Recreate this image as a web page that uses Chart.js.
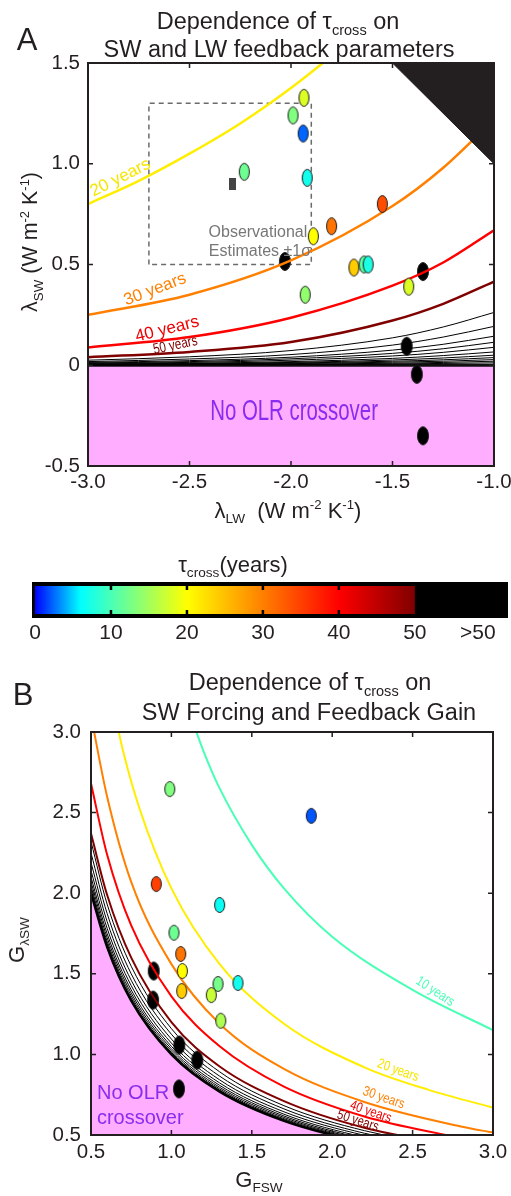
<!DOCTYPE html>
<html>
<head>
<meta charset="utf-8">
<script src="https://cdn.jsdelivr.net/npm/chart.js@4.4.1/dist/chart.umd.min.js"></script>
<style>
  html, body { margin: 0; padding: 0; background: #fff; }
  #page { position: relative; width: 511px; height: 1196px; overflow: hidden;
          font-family: 'Liberation Sans', Arial, Helvetica, sans-serif; color: #231f20; }
  canvas { position: absolute; left: 0; }
  .txt { position: absolute; white-space: nowrap; transform: translate(-50%, -50%); line-height: 1; }
  .rot { transform: translate(-50%, -50%) rotate(-90deg); }
  sub { font-size: 0.62em; vertical-align: -0.4em; line-height: 0; }
  sup { font-size: 0.6em; vertical-align: 0.65em; line-height: 0; }
</style>
</head>
<body>
<div id="page">
  <canvas id="chartA" width="511" height="530" style="top:0"></canvas>
  <canvas id="chartBar" width="511" height="100" style="top:560px"></canvas>
  <canvas id="chartB" width="511" height="516" style="top:680px"></canvas>

  <div class="txt" style="left:27px;top:39px;font-size:31px">A</div>
  <div class="txt" style="left:278px;top:22px;font-size:23.5px">Dependence of τ<sub>cross</sub> on</div>
  <div class="txt" style="left:279px;top:50px;font-size:23.5px">SW and LW feedback parameters</div>
  <div class="txt rot" style="left:31px;top:242px;font-size:21.5px">λ<sub>SW</sub> (W m<sup>-2</sup> K<sup>-1</sup>)</div>
  <div class="txt" style="left:288px;top:511px;font-size:22px">λ<sub>LW</sub>&nbsp; (W m<sup>-2</sup> K<sup>-1</sup>)</div>

  <div class="txt" style="left:233px;top:565px;font-size:22px">τ<sub>cross</sub>(years)</div>

  <div class="txt" style="left:23px;top:694px;font-size:31px">B</div>
  <div class="txt" style="left:310px;top:683px;font-size:23.5px">Dependence of τ<sub>cross</sub> on</div>
  <div class="txt" style="left:309px;top:713px;font-size:23.5px">SW Forcing and Feedback Gain</div>
  <div class="txt rot" style="left:17px;top:940px;font-size:22px">G<sub>λSW</sub></div>
  <div class="txt" style="left:259px;top:1180px;font-size:22px">G<sub>FSW</sub></div>
</div>

<script>
// ---------------- Panel A data ----------------
const lwTicksA = [-3.0, -2.5, -2.0, -1.5, -1.0];
const swTicksA = [-0.5, 0, 0.5, 1.0, 1.5];
const lwGridA = [-3.0, -2.5, -2.0, -1.5, -1.25, -1.0];

// tau contours (lambda_SW on lwGridA)
const yr20A = [[-3.0, 0.80], [-2.75, 0.915], [-2.5, 1.05], [-2.25, 1.20], [-2.0, 1.376], [-1.75, 1.575]];
const yr30A = [0.25, 0.35, 0.52, 0.79, 0.98, 1.22];
const yr40A = [0.088, 0.14, 0.236, 0.395, 0.51, 0.67];
const yr50A = [0.04, 0.066, 0.115, 0.222, 0.305, 0.415];
const longerA = [
  [0.025, 0.042, 0.073, 0.136, 0.19, 0.262],
  [0.018, 0.031, 0.053, 0.10, 0.14, 0.193],
  [0.014, 0.023, 0.04, 0.075, 0.104, 0.144],
  [0.011, 0.018, 0.032, 0.059, 0.082, 0.114],
  [0.009, 0.014, 0.025, 0.046, 0.064, 0.089],
  [0.006, 0.010, 0.018, 0.034, 0.048, 0.066],
  [0.005, 0.008, 0.014, 0.026, 0.036, 0.05],
  [0.004, 0.006, 0.011, 0.02, 0.027, 0.038],
  [0.003, 0.004, 0.008, 0.015, 0.02, 0.028],
  [0.002, 0.003, 0.005, 0.01, 0.014, 0.02],
  [0.001, 0.002, 0.003, 0.006, 0.009, 0.012]
];
const noCrossA = [[-3.0, 0], [-1.0, 0]];
const cornerA = [[-1.5, 1.5], [-1.0, 1.0]];

// observational estimate +-1 sigma
const obsLwA = [-2.7, -1.9];
const obsSwA = [0.5, 1.3];
const obsCenterA = [-2.29, 0.90];

// models (tau 60 = ">50")
const modelLwA = [-1.936, -1.99, -1.94, -2.23, -1.92, -1.55, -1.80, -1.89, -2.03, -1.69, -1.64, -1.62, -1.35, -1.42, -1.93, -1.43, -1.38, -1.35];
const modelSwA = [1.327, 1.24, 1.15, 0.96, 0.93, 0.80, 0.69, 0.64, 0.515, 0.485, 0.50, 0.50, 0.465, 0.39, 0.35, 0.094, -0.045, -0.35];
const modelTauA = [18, 13, 2.4, 12, 7, 34, 31, 20, 60, 24, 11, 7.5, 60, 18, 14, 60, 60, 60];

// ---------------- Colorbar ----------------
const barTicks = [0, 10, 20, 30, 40, 50, 58.3];

// ---------------- Panel B data ----------------
const gTicksB = [0.5, 1.0, 1.5, 2.0, 2.5, 3.0];
const gridB = [0.5, 0.6, 0.75, 1.0, 1.3, 1.7, 2.2, 2.8];

const yr10B = [[1.12, 3.10], [1.2, 2.88], [1.3, 2.65], [1.5, 2.30], [1.7, 2.03], [2.0, 1.73], [2.5, 1.40], [3.0, 1.15]];
const yr20B = [[0.64, 3.15], [0.7, 2.88], [0.8, 2.53], [1.0, 2.03], [1.3, 1.56], [1.7, 1.19], [2.2, 0.92], [2.6, 0.78], [3.0, 0.67]];
const yr30B = [[0.5, 3.10], [0.6, 2.60], [0.75, 2.07], [1.0, 1.56], [1.3, 1.19], [1.7, 0.91], [2.2, 0.705], [2.8, 0.553], [3.0, 0.515]];
const yr40B = [2.68, 2.24, 1.80, 1.36, 1.05, 0.80, 0.615, 0.48];
const yr50B = [2.37, 1.99, 1.60, 1.20, 0.925, 0.71, 0.545, 0.43];
const longerB = [
  [2.32, 1.933, 1.547, 1.16, 0.892, 0.682, 0.527, 0.414],
  [2.25, 1.875, 1.50, 1.125, 0.865, 0.662, 0.511, 0.402],
  [2.19, 1.825, 1.46, 1.095, 0.842, 0.644, 0.498, 0.391],
  [2.14, 1.783, 1.427, 1.07, 0.823, 0.629, 0.486, 0.382],
  [2.10, 1.75, 1.40, 1.05, 0.808, 0.618, 0.477, 0.375],
  [2.07, 1.725, 1.38, 1.035, 0.796, 0.609, 0.47, 0.37],
  [2.044, 1.703, 1.363, 1.022, 0.786, 0.601, 0.465, 0.365],
  [2.024, 1.687, 1.349, 1.012, 0.778, 0.595, 0.46, 0.361]
];
const noCrossB = [2.0, 1.667, 1.333, 1.0, 0.769, 0.588, 0.455, 0.357];

const gFswB = [0.99, 1.87, 0.906, 1.30, 1.016, 1.058, 0.89, 1.068, 1.29, 1.414, 1.064, 1.248, 0.886, 1.307, 1.049, 1.161, 1.047];
const gLamB = [2.646, 2.48, 2.057, 1.927, 1.755, 1.623, 1.517, 1.517, 1.437, 1.443, 1.393, 1.368, 1.337, 1.209, 1.058, 0.965, 0.786];
const tauB = [13, 2, 35, 6.5, 12, 31, 60, 20, 12.5, 7, 24, 17, 60, 15.5, 60, 60, 60];

// ---------------- styling helpers ----------------
const FONT = "'Liberation Sans', Arial, Helvetica, sans-serif";
const INK = '#231f20';
const PINK = '#ffadff';
Chart.defaults.font.family = FONT;
Chart.defaults.color = INK;

// colour map used by the figure (blue -> cyan -> yellow -> red -> dark red, black above 50)
const cmapStops = [[0, [0, 0, 255]], [6, [0, 255, 255]], [20, [255, 255, 0]], [40, [255, 0, 0]], [50, [128, 0, 0]]];
function tauColor(t) {
  if (t > 50) return '#000';
  for (let i = 1; i < cmapStops.length; i++) {
    const [v0, c0] = cmapStops[i - 1];
    const [v1, c1] = cmapStops[i];
    if (t <= v1) {
      const f = (t - v0) / (v1 - v0);
      const c = c0.map((c, k) => Math.round(c + (c1[k] - c) * f));
      return `rgb(${c[0]},${c[1]},${c[2]})`;
    }
  }
  return 'rgb(128,0,0)';
}

// ellipse markers drawn once into small canvases
const markCache = {};
function ellipseMark(color, rx, ry) {
  const key = color + '|' + rx + '|' + ry;
  if (markCache[key]) return markCache[key];
  const c = document.createElement('canvas');
  c.width = Math.ceil(rx * 2 + 3);
  c.height = Math.ceil(ry * 2 + 3);
  const g = c.getContext('2d');
  g.beginPath();
  g.ellipse(c.width / 2, c.height / 2, rx, ry, 0, 0, Math.PI * 2);
  g.fillStyle = color;
  g.fill();
  g.lineWidth = 1;
  g.strokeStyle = '#1a1a1a';
  g.stroke();
  markCache[key] = c;
  return c;
}

function rectMark(color, w, h) {
  const c = document.createElement('canvas');
  c.width = w; c.height = h;
  const g = c.getContext('2d');
  g.fillStyle = color;
  g.fillRect(0, 0, w, h);
  return c;
}

function pairs(xs, ys) {
  return xs.map((x, i) => ({ x: x, y: ys[i] }));
}
function xy(list) {
  return list.map(p => ({ x: p[0], y: p[1] }));
}

function curve(data, color, width) {
  return {
    data: data, showLine: true, borderColor: color, borderWidth: width,
    pointRadius: 0, fill: false, cubicInterpolationMode: 'monotone', clip: 0
  };
}

function modelPoints(xs, ys, taus, wantBlack, rx, ry) {
  const data = xs.map((x, i) => ({ x: x, y: ys[i], tau: taus[i] }))
    .filter(p => (p.tau > 50) === wantBlack);
  return {
    data: data, showLine: false, pointRadius: 8, clip: false,
    pointStyle: ctx => ctx.raw ? ellipseMark(tauColor(ctx.raw.tau), rx, ry) : 'circle'
  };
}

// frame with inward tick marks on all four sides
const framePlugin = {
  id: 'frame',
  afterDatasetsDraw(chart) {
    const { ctx, chartArea: a, scales } = chart;
    ctx.save();
    ctx.strokeStyle = INK;
    ctx.lineWidth = 1.5;
    const len = 5;
    scales.x.ticks.forEach(t => {
      const px = scales.x.getPixelForValue(t.value);
      if (px <= a.left + 1 || px >= a.right - 1) return;
      ctx.beginPath();
      ctx.moveTo(px, a.top); ctx.lineTo(px, a.top + len);
      ctx.moveTo(px, a.bottom); ctx.lineTo(px, a.bottom - len);
      ctx.stroke();
    });
    scales.y.ticks.forEach(t => {
      const py = scales.y.getPixelForValue(t.value);
      if (py <= a.top + 1 || py >= a.bottom - 1) return;
      ctx.beginPath();
      ctx.moveTo(a.left, py); ctx.lineTo(a.left + len, py);
      ctx.moveTo(a.right, py); ctx.lineTo(a.right - len, py);
      ctx.stroke();
    });
    ctx.lineWidth = 2;
    ctx.strokeRect(a.left, a.top, a.right - a.left, a.bottom - a.top);
    ctx.restore();
  }
};

// text drawn in data coordinates (contour labels etc.)
function labelPlugin(items) {
  return {
    id: 'curveLabels',
    afterDatasetsDraw(chart) {
      const { ctx, scales } = chart;
      items.forEach(it => {
        const px = scales.x.getPixelForValue(it.x);
        const py = scales.y.getPixelForValue(it.y);
        ctx.save();
        ctx.translate(px, py);
        ctx.rotate((it.rot || 0) * Math.PI / 180);
        ctx.scale(it.sx || 1, 1);
        ctx.font = it.size + 'px ' + FONT;
        ctx.fillStyle = it.color;
        ctx.textAlign = it.align || 'center';
        ctx.textBaseline = 'middle';
        ctx.fillText(it.text, 0, 0);
        ctx.restore();
      });
    }
  };
}

function axis(min, max, ticks, fmt, size, pad, fit) {
  return {
    type: 'linear', min: min, max: max,
    afterBuildTicks: s => { s.ticks = ticks.map(v => ({ value: v })); },
    ticks: { callback: fmt, font: { size: size }, color: INK, padding: pad, autoSkip: false, maxRotation: 0 },
    grid: { display: false, drawTicks: false },
    border: { display: false },
    afterFit: fit
  };
}

const fmt1 = v => v === 0 ? '0' : v.toFixed(1);

// ---------------- Panel A ----------------
const dsA = [];  // built bottom -> top
dsA.push({
  data: pairs([obsLwA[0], obsLwA[0], obsLwA[1], obsLwA[1], obsLwA[0]],
              [obsSwA[0], obsSwA[1], obsSwA[1], obsSwA[0], obsSwA[0]]),
  showLine: true, borderColor: '#6b6b6b', borderWidth: 1.5, borderDash: [5, 4],
  pointRadius: 0, fill: false, clip: 0
});
dsA.push({
  data: xy(noCrossA), showLine: true, borderColor: '#111', borderWidth: 3,
  backgroundColor: PINK, fill: 'start', pointRadius: 0, clip: 0
});
dsA.push(modelPoints(modelLwA, modelSwA, modelTauA, true, 5.5, 9));
longerA.forEach(ys => dsA.push(curve(pairs(lwGridA, ys), '#000', 1)));
dsA.push(curve(pairs(lwGridA, yr50A), tauColor(50), 2.5));
dsA.push(curve(pairs(lwGridA, yr40A), tauColor(40), 2.5));
dsA.push(curve(pairs(lwGridA, yr30A), tauColor(30), 2.5));
dsA.push(curve(xy(yr20A), '#ffee00', 2.5));
dsA.push({
  data: xy(cornerA), showLine: true, borderColor: '#231f20', borderWidth: 1,
  backgroundColor: '#231f20', fill: 'end', pointRadius: 0, clip: 0
});
dsA.push({
  data: [{ x: obsCenterA[0], y: obsCenterA[1] }], showLine: false, pointRadius: 6,
  pointStyle: rectMark('#444', 7, 12)
});
dsA.push(modelPoints(modelLwA, modelSwA, modelTauA, false, 5, 8.5));

const labelsA = [
  { text: '20 years', x: -2.84, y: 0.93, rot: -27, size: 17, color: '#f5e600' },
  { text: '30 years', x: -2.67, y: 0.376, rot: -21, size: 17, color: tauColor(30) },
  { text: '40 years', x: -2.61, y: 0.178, rot: -14, size: 17, color: '#ee0000' },
  { text: '50 years', x: -2.57, y: 0.099, rot: -12, size: 15, sx: 0.78, color: tauColor(50) },
  { text: 'No OLR crossover', x: -1.985, y: -0.233, size: 30, sx: 0.68, color: '#8a2cf0' },
  { text: 'Observational', x: -2.163, y: 0.658, size: 16, color: '#777' },
  { text: 'Estimates ±1σ', x: -2.153, y: 0.564, size: 16, color: '#777' }
];

new Chart(document.getElementById('chartA'), {
  type: 'scatter',
  data: { datasets: dsA.reverse() },
  options: {
    responsive: false, animation: false, events: [],
    layout: { padding: { top: 63, right: 17, left: 0, bottom: 0 } },
    plugins: { legend: { display: false }, tooltip: { enabled: false } },
    scales: {
      x: axis(-3, -1, lwTicksA, v => v.toFixed(1), 20.5, 4,
        s => { s.height = 64; s.paddingLeft = 0; s.paddingRight = 0; }),
      y: axis(-0.5, 1.5, swTicksA, fmt1, 20.5, 8,
        s => { s.width = 88; s.paddingTop = 0; s.paddingBottom = 0; })
    }
  },
  plugins: [framePlugin, labelPlugin(labelsA)]
});

// ---------------- Colorbar ----------------
const colorbarPlugin = {
  id: 'colorbar',
  beforeDatasetsDraw(chart) {
    const { ctx, chartArea: a, scales: { x } } = chart;
    ctx.save();
    ctx.fillStyle = '#000';
    ctx.fillRect(a.left - 3, a.top - 4, a.right - a.left + 5, a.bottom - a.top + 8);
    const x0 = x.getPixelForValue(0);
    const x50 = x.getPixelForValue(50);
    const grad = ctx.createLinearGradient(x0, 0, x50, 0);
    cmapStops.forEach(s => grad.addColorStop(s[0] / 50, `rgb(${s[1].join(',')})`));
    ctx.fillStyle = grad;
    ctx.fillRect(x0, a.top, x50 - x0, a.bottom - a.top);
    ctx.strokeStyle = '#000';
    ctx.lineWidth = 2.5;
    barTicks.filter(v => v > 0 && v < 50).forEach(v => {
      const px = x.getPixelForValue(v);
      ctx.beginPath();
      ctx.moveTo(px, a.top); ctx.lineTo(px, a.top + 4);
      ctx.moveTo(px, a.bottom); ctx.lineTo(px, a.bottom - 4);
      ctx.stroke();
    });
    ctx.restore();
  }
};

new Chart(document.getElementById('chartBar'), {
  type: 'scatter',
  data: { datasets: [] },
  options: {
    responsive: false, animation: false, events: [],
    layout: { padding: { top: 26, right: 5, left: 35, bottom: 0 } },
    plugins: { legend: { display: false }, tooltip: { enabled: false } },
    scales: {
      x: axis(0, 62, barTicks, v => v > 50 ? '>50' : String(v), 21, 7,
        s => { s.height = 46; s.paddingLeft = 0; s.paddingRight = 0; }),
      y: { display: false, min: 0, max: 1 }
    }
  },
  plugins: [colorbarPlugin]
});

// ---------------- Panel B ----------------
const dsB = [];  // built bottom -> top
dsB.push({
  data: pairs(gridB, noCrossB), showLine: true, borderColor: '#000', borderWidth: 2.5,
  backgroundColor: PINK, fill: 'start', pointRadius: 0, cubicInterpolationMode: 'monotone', clip: 0
});
dsB.push(modelPoints(gFswB, gLamB, tauB, true, 5.5, 9));
longerB.forEach(ys => dsB.push(curve(pairs(gridB, ys), '#000', 1)));
dsB.push(curve(pairs(gridB, yr50B), tauColor(50), 2));
dsB.push(curve(pairs(gridB, yr40B), tauColor(40), 2));
dsB.push(curve(xy(yr30B), tauColor(30), 2));
dsB.push(curve(xy(yr20B), '#ffee00', 2));
dsB.push(curve(xy(yr10B), tauColor(10), 2));
dsB.push(modelPoints(gFswB, gLamB, tauB, false, 5, 7.5));

const labelsB = [
  { text: '10 years', x: 2.64, y: 1.39, rot: 33, size: 14, sx: 0.8, color: tauColor(10) },
  { text: '20 years', x: 2.41, y: 0.90, rot: 20, size: 14, sx: 0.8, color: '#f5e600' },
  { text: '30 years', x: 2.32, y: 0.73, rot: 19, size: 14, sx: 0.8, color: tauColor(30) },
  { text: '40 years', x: 2.24, y: 0.643, rot: 19, size: 14, sx: 0.8, color: '#ee0000' },
  { text: '50 years', x: 2.16, y: 0.587, rot: 18, size: 14, sx: 0.8, color: tauColor(50) },
  { text: 'No OLR', x: 0.537, y: 0.755, size: 20, align: 'left', color: '#8a2cf0' },
  { text: 'crossover', x: 0.537, y: 0.60, size: 20, align: 'left', color: '#8a2cf0' }
];

new Chart(document.getElementById('chartB'), {
  type: 'scatter',
  data: { datasets: dsB.reverse() },
  options: {
    responsive: false, animation: false, events: [],
    layout: { padding: { top: 52, right: 18, left: 0, bottom: 0 } },
    plugins: { legend: { display: false }, tooltip: { enabled: false } },
    scales: {
      x: axis(0.5, 3.0, gTicksB, v => v.toFixed(1), 20.5, 5,
        s => { s.height = 61; s.paddingLeft = 0; s.paddingRight = 0; }),
      y: axis(0.5, 3.0, gTicksB, v => v.toFixed(1), 20.5, 10,
        s => { s.width = 91; s.paddingTop = 0; s.paddingBottom = 0; })
    }
  },
  plugins: [framePlugin, labelPlugin(labelsB)]
});
</script>
</body>
</html>
